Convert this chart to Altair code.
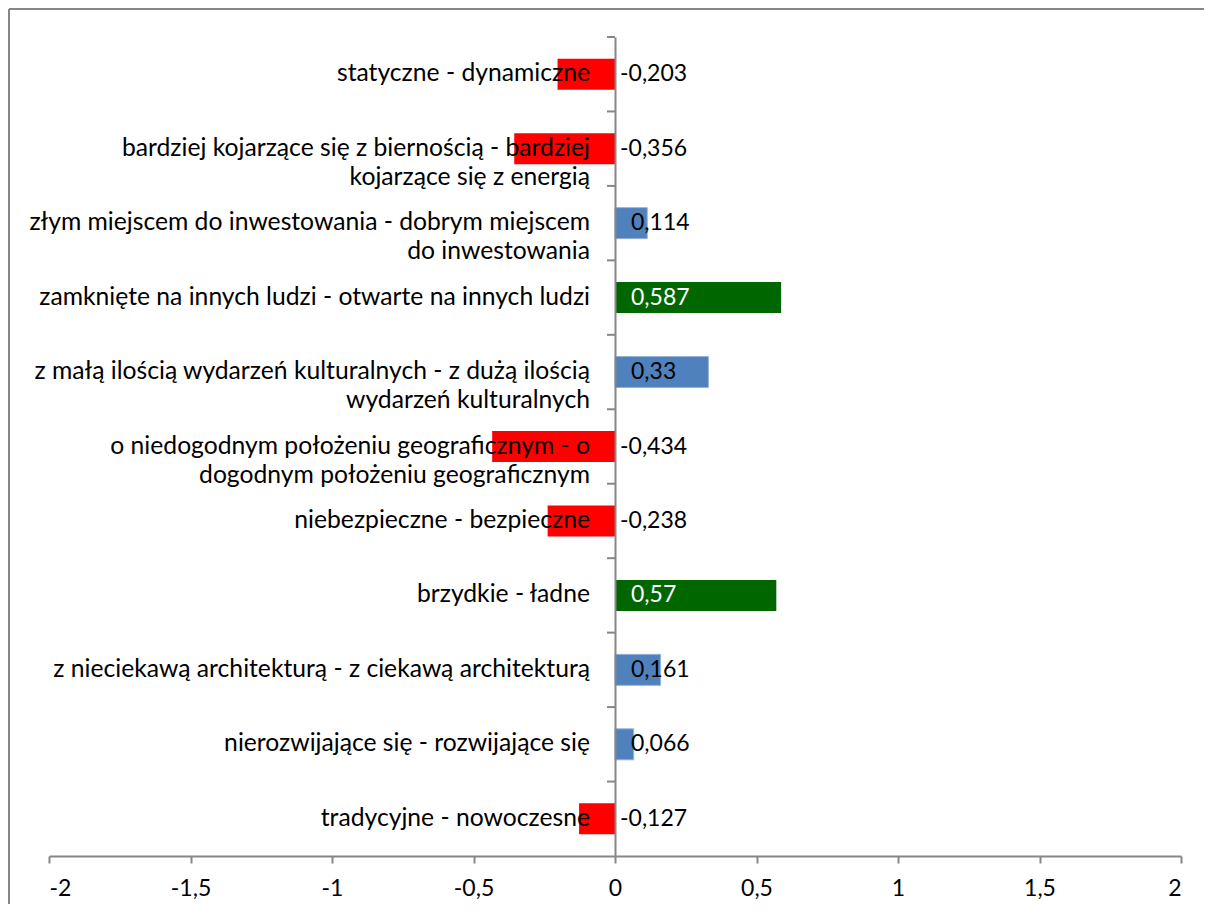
import altair as alt
import pandas as pd

categories = [
    "statyczne - dynamiczne",
    "bardziej kojarzące się z biernością - bardziej\nkojarzące się z energią",
    "złym miejscem do inwestowania - dobrym miejscem\ndo inwestowania",
    "zamknięte na innych ludzi - otwarte na innych ludzi",
    "z małą ilością wydarzeń kulturalnych - z dużą ilością\nwydarzeń kulturalnych",
    "o niedogodnym położeniu geograficznym - o\ndogodnym położeniu geograficznym",
    "niebezpieczne - bezpieczne",
    "brzydkie - ładne",
    "z nieciekawą architekturą - z ciekawą architekturą",
    "nierozwijające się - rozwijające się",
    "tradycyjne - nowoczesne",
]
values = [-0.203, -0.356, 0.114, 0.587, 0.33, -0.434, -0.238, 0.57, 0.161, 0.066, -0.127]
x_ticks = [-2, -1.5, -1, -0.5, 0, 0.5, 1, 1.5, 2]

groups = ["neg", "mid", "high"]
group_colors = ["#FF0000", "#4F81BD", "#006600"]


def group_of(v):
    if v < 0:
        return "neg"
    if v >= 0.5:
        return "high"
    return "mid"


df = pd.DataFrame({
    "cat": categories,
    "value": values,
    "group": [group_of(v) for v in values],
    "label": [str(v).replace(".", ",") for v in values],
})

W, H = 1132, 819
FONT = "Lato"
FS_CAT = 24.7
FS = 23
GRAY = "#868686"

x_enc = alt.X(
    "value:Q",
    scale=alt.Scale(domain=[-2, 2], nice=False, zero=False),
    axis=alt.Axis(
        values=x_ticks,
        labelExpr="replace(toString(datum.value), '.', ',')",
        grid=False,
        domainColor=GRAY, domainWidth=2,
        tickColor=GRAY, tickWidth=2, tickSize=7,
        labelFont=FONT, labelFontSize=FS, labelColor="black",
        labelPadding=14, title=None,
    ),
)
y_scale = alt.Scale(paddingInner=0, paddingOuter=0)
y_enc = alt.Y(
    "cat:N",
    sort=categories,
    scale=y_scale,
    axis=alt.Axis(
        labels=False, ticks=False, title=None, offset=-W / 2,
        domainColor=GRAY, domainWidth=2, grid=False, zindex=1,
    ),
)
# upper boundary of each category band (for the y-axis tick marks)
y_edge = alt.Y("cat:N", sort=categories, scale=y_scale, bandPosition=0)

base = alt.Chart(df)

bars = base.mark_bar(size=31, stroke="#95B3D7", strokeWidth=1).encode(
    x=x_enc,
    y=y_enc,
    color=alt.Color("group:N", scale=alt.Scale(domain=groups, range=group_colors), legend=None),
    strokeOpacity=alt.condition("datum.group == 'mid'", alt.value(1), alt.value(0)),
)

y_ticks = base.mark_tick(
    orient="horizontal", size=8, thickness=2, color=GRAY, xOffset=-4, opacity=1
).encode(x=alt.datum(0), y=y_edge)

cat_text = base.mark_text(
    align="right", baseline="middle", dx=-25, font=FONT, fontSize=FS_CAT,
    lineBreak="\n", lineHeight=29, color="black",
).encode(x=alt.datum(0), y=y_enc, text="cat:N")

txt_color = alt.condition("datum.group == 'high'", alt.value("white"), alt.value("black"))

pos_text = base.transform_filter("datum.value >= 0").mark_text(
    align="left", baseline="middle", dx=16, font=FONT, fontSize=FS,
).encode(x=alt.datum(0), y=y_enc, text="label:N", color=txt_color)

neg_text = base.transform_filter("datum.value < 0").mark_text(
    align="left", baseline="middle", dx=5, font=FONT, fontSize=FS,
).encode(x=alt.datum(0), y=y_enc, text="label:N", color=txt_color)

frame_src = alt.Chart(pd.DataFrame({"a": [0]}))
frame_top = frame_src.mark_rule(color=GRAY, strokeWidth=2).encode(
    x=alt.value(-40), x2=alt.value(W + 200), y=alt.value(-28)
)
frame_left = frame_src.mark_rule(color=GRAY, strokeWidth=2).encode(
    x=alt.value(-40), y=alt.value(-28), y2=alt.value(H + 200)
)

chart = alt.layer(frame_top, frame_left, bars, y_ticks, cat_text, pos_text, neg_text).properties(
    width=W, height=H,
    autosize=alt.AutoSizeParams(type="none"),
    padding={"left": 41, "top": 29, "right": 23, "bottom": 48},
    background="white",
).configure_view(stroke=None)

chart.save("out.html", embed_options={"renderer": "svg", "actions": False})
